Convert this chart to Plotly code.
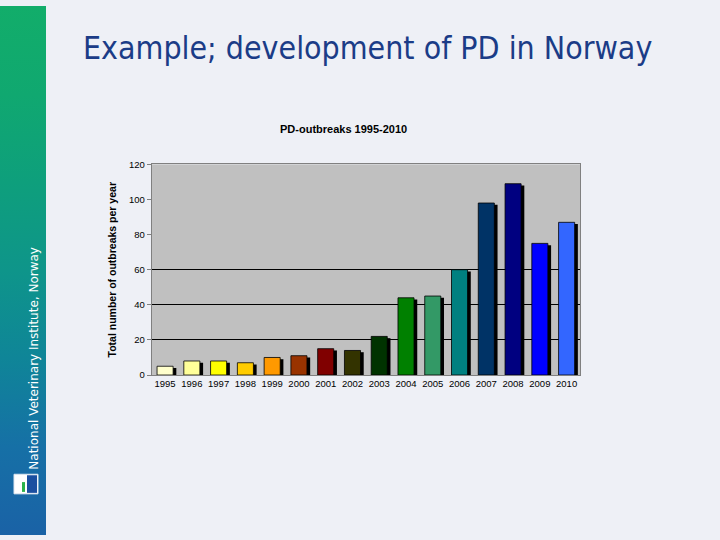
import base64
import plotly.graph_objects as go

years = ["1995", "1996", "1997", "1998", "1999", "2000", "2001", "2002",
         "2003", "2004", "2005", "2006", "2007", "2008", "2009", "2010"]
outbreaks = [5, 8, 8, 7, 10, 11, 15, 14, 22, 44, 45, 60, 98, 109, 75, 87]
bar_colors = ["#FFFFCC", "#FFFF99", "#FFFF00", "#FFCC00", "#FF9900", "#993300",
              "#800000", "#333300", "#003300", "#008000", "#339966", "#008080",
              "#003366", "#000080", "#0000FF", "#3366FF"]
y_ticks = [0, 20, 40, 60, 80, 100, 120]
grid_ticks = [20, 40, 60]

# sidebar gradient (top -> bottom), decorative
side_colors = ["#12AD6A", "#10A870", "#0E9F7C", "#0E958A", "#0F8598", "#1670A6", "#1A62A6"]

BG = "#EEF0F6"

stops = "".join(
    f'<stop offset="{i / (len(side_colors) - 1):.3f}" stop-color="{c}"/>'
    for i, c in enumerate(side_colors))
svg = ('<svg xmlns="http://www.w3.org/2000/svg" width="46" height="540" '
       'preserveAspectRatio="none" viewBox="0 0 46 540">'
       f'<defs><linearGradient id="g" x1="0" y1="0" x2="0" y2="1">{stops}</linearGradient></defs>'
       '<rect x="0" y="0" width="46" height="540" fill="url(#g)"/></svg>')
side_src = "data:image/svg+xml;base64," + base64.b64encode(svg.encode()).decode()

fig = go.Figure()

# shadows
fig.add_trace(go.Bar(
    x=years, y=[v - 1.0 for v in outbreaks], width=0.6, offset=-0.18,
    marker=dict(color="#000000", line=dict(width=0)),
    hoverinfo="skip", showlegend=False, xaxis="x", yaxis="y"))
# bars
fig.add_trace(go.Bar(
    x=years, y=outbreaks, width=0.6, offset=-0.3,
    marker=dict(color=bar_colors, line=dict(color="#000000", width=0.8)),
    showlegend=False, xaxis="x", yaxis="y"))

# overlay axis to draw the partial gridlines
fig.add_trace(go.Scatter(x=[years[0]], y=[0], mode="markers", marker=dict(opacity=0),
                         hoverinfo="skip", showlegend=False, xaxis="x", yaxis="y2"))

x0, x1 = 151.7 / 720, 580 / 720
y0, y1 = 1 - 376.7 / 540, 1 - 161.7 / 540

fig.update_layout(
    width=720, height=540,
    margin=dict(l=0, r=0, t=0, b=0),
    paper_bgcolor=BG, plot_bgcolor="#C0C0C0",
    barmode="overlay",
    font=dict(family="Liberation Sans, Arial", color="#000000", size=10),
    xaxis=dict(domain=[x0, x1], type="category", showgrid=False, zeroline=False,
               showline=True, linecolor="#808080", linewidth=1, mirror=True,
               ticks="", tickfont=dict(size=9.5, family="Liberation Sans"),
               range=[-0.5, 15.5]),
    yaxis=dict(domain=[y0, y1], range=[0, 120], tickvals=y_ticks, showgrid=False,
               zeroline=False, showline=True, linecolor="#808080", linewidth=1,
               mirror=True, ticks="outside", ticklen=4, tickcolor="#808080",
               tickfont=dict(size=9.5, family="Liberation Sans"),
               title=dict(text="<b>Total number of outbreaks per year</b>",
                          font=dict(size=10.5, family="Liberation Sans"), standoff=10)),
    yaxis2=dict(overlaying="y", range=[0, 120], tickvals=grid_ticks, showgrid=True,
                gridcolor="#000000", gridwidth=1, showticklabels=False,
                zeroline=False, showline=False, ticks=""),
    images=[dict(source=side_src, xref="paper", yref="paper", x=0, y=1,
                 sizex=46 / 720, sizey=1, xanchor="left", yanchor="top",
                 sizing="stretch", layer="below")],
    annotations=[
        dict(text="Example; development of PD in Norway", x=367 / 720, y=1 - 42 / 540,
             xref="paper", yref="paper", showarrow=False, xanchor="center",
             yanchor="middle",
             font=dict(family="DejaVu Sans Condensed, DejaVu Sans", size=31.8,
                       color="#1B3C87")),
        dict(text="<b>PD-outbreaks 1995-2010</b>", x=343 / 720, y=1 - 126 / 540,
             xref="paper", yref="paper", showarrow=False, xanchor="center",
             yanchor="middle", font=dict(size=11, family="Liberation Sans")),
        dict(text="National Veterinary Institute, Norway", x=34 / 720,
             y=1 - 360 / 540, xref="paper", yref="paper", showarrow=False,
             textangle=-90, xanchor="center", yanchor="middle",
             font=dict(family="DejaVu Sans", size=12, color="#FFFFFF")),
    ],
    shapes=[
        dict(type="rect", xref="paper", yref="paper", x0=14 / 720, x1=38 / 720,
             y0=1 - 498 / 540, y1=1 - 478 / 540, fillcolor="#FFFFFF",
             line=dict(color="#DDE6F0", width=1)),
        dict(type="rect", xref="paper", yref="paper", x0=27 / 720, x1=37 / 720,
             y0=1 - 497 / 540, y1=1 - 479 / 540, fillcolor="#1A4FA0",
             line=dict(width=0)),
        dict(type="rect", xref="paper", yref="paper", x0=22 / 720, x1=25 / 720,
             y0=1 - 496 / 540, y1=1 - 486 / 540, fillcolor="#2BB34A",
             line=dict(width=0)),
    ],
)

post = (
    "document.documentElement.style.margin='0';"
    "document.body.style.margin='0';document.body.style.padding='0';"
    "document.body.style.background='#EEF0F6';"
    "var d=document.getElementById('{plot_id}');"
    "d.style.position='fixed';d.style.top='0px';d.style.left='0px';"
)
fig.write_html("out.html", config={"displayModeBar": False}, post_script=post)
